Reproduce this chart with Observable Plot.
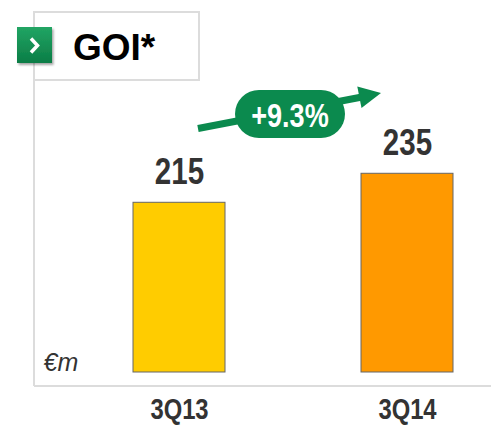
<!DOCTYPE html>
<html>
<head>
<meta charset="utf-8">
<script src="https://cdn.jsdelivr.net/npm/d3@7"></script>
<script src="https://cdn.jsdelivr.net/npm/@observablehq/plot@0.6"></script>
<style>
  html, body { margin: 0; padding: 0; background: #fff; }
  #chart svg { display: block; background: #fff; }
</style>
</head>
<body>
<div id="chart"></div>
<script>
// ---- data ----
const categories = ["3Q13", "3Q14"];
const values = [215, 235];
const barColors = ["#FFCC00", "#FF9900"];
const titleText = "GOI*";
const unitLabel = "€m";
const axisBase = 98;   // value axis does not start at zero in the original
const axisTop = 300;

const data = categories.map((c, i) => ({category: c, value: values[i]}));
const growth = (values[1] - values[0]) / values[0] * 100;
const growthLabel = "+" + growth.toFixed(1) + "%";

const regular = "'Liberation Sans', Arial, sans-serif";
const green = "#0b8a4e";

const plot = Plot.plot({
  width: 491,
  height: 425,
  marginLeft: 34,
  marginRight: 0,
  marginTop: 79,
  marginBottom: 53,
  x: {domain: categories, paddingInner: 0.598, paddingOuter: 0.297, align: 0.72, axis: null},
  y: {domain: [axisBase, axisTop], axis: null},
  color: {domain: categories, range: barColors},
  marks: [
    Plot.barY(data, {x: "category", y1: axisBase, y2: "value", fill: "category", stroke: "#666", strokeWidth: 1}),
    Plot.text(data, {x: "category", y: "value", text: d => String(d.value), lineAnchor: "bottom", dy: -19,
      fontSize: 36, fontWeight: "bold", fontFamily: regular, fill: "#333"}),
    Plot.axisX({tickSize: 0, tickPadding: 26, fontSize: 29, fontWeight: "bold", fontFamily: regular, fill: "#333", label: null}),
    Plot.text([unitLabel], {frameAnchor: "bottom-left", text: d => d, textAnchor: "start", lineAnchor: "bottom",
      dx: 9, dy: -2, fontSize: 25, fontStyle: "italic", fontFamily: regular, fill: "#333"})
  ]
});
document.getElementById("chart").appendChild(plot);

// emulate a narrow bold face (Arial Narrow) by condensing bold glyphs
function condense(nodes, ratio) {
  nodes.forEach(node => {
    const len = node.getComputedTextLength();
    node.setAttribute("textLength", (len * ratio).toFixed(2));
    node.setAttribute("lengthAdjust", "spacingAndGlyphs");
  });
}
condense(Array.from(plot.querySelectorAll("text")).filter(t => {
  const w = getComputedStyle(t).fontWeight;
  return w === "700" || w === "bold";
}), 0.82);

// ---- decorations (frame, title box, growth badge) ----
const svg = d3.select(plot);
const defs = svg.append("defs");
const grad = defs.append("linearGradient").attr("id", "iconGrad").attr("x1", 0).attr("y1", 0).attr("x2", 0).attr("y2", 1);
grad.append("stop").attr("offset", "0%").attr("stop-color", "#22a564");
grad.append("stop").attr("offset", "100%").attr("stop-color", "#0b7d46");
const shadow = defs.append("filter").attr("id", "shadow").attr("x", "-20%").attr("y", "-20%").attr("width", "150%").attr("height", "150%");
shadow.append("feDropShadow").attr("dx", 1.5).attr("dy", 2).attr("stdDeviation", 1.2).attr("flood-color", "#000").attr("flood-opacity", 0.35);

const deco = svg.append("g").attr("text-anchor", "start");
// frame lines
deco.append("line").attr("x1", 34).attr("y1", 80).attr("x2", 34).attr("y2", 386)
  .attr("stroke", "#dcdcdc").attr("stroke-width", 2);
deco.append("line").attr("x1", 34).attr("y1", 386).attr("x2", 491).attr("y2", 386)
  .attr("stroke", "#dcdcdc").attr("stroke-width", 2);
// title box
deco.append("rect").attr("x", 34).attr("y", 12).attr("width", 165).attr("height", 68)
  .attr("fill", "#fff").attr("stroke", "#dcdcdc").attr("stroke-width", 2);
deco.append("rect").attr("x", 17).attr("y", 27).attr("width", 35).attr("height", 36)
  .attr("fill", "url(#iconGrad)").attr("filter", "url(#shadow)");
deco.append("path").attr("d", "M31,38.5 L37.5,45.5 L31,52.5")
  .attr("fill", "none").attr("stroke", "#fff").attr("stroke-width", 3.5).attr("stroke-linejoin", "miter");
deco.append("text").attr("x", 73).attr("y", 60).attr("text-anchor", "start").text(titleText)
  .attr("font-family", regular).attr("font-weight", "bold").attr("font-size", 37).attr("fill", "#000");
// growth arrow
deco.append("line").attr("x1", 198).attr("y1", 128.5).attr("x2", 362).attr("y2", 97)
  .attr("stroke", green).attr("stroke-width", 7);
deco.append("polygon").attr("points", "381,93 357.3,86.4 361.5,108").attr("fill", green);
// badge
deco.append("rect").attr("x", 235).attr("y", 90).attr("width", 110).attr("height", 48).attr("rx", 24)
  .attr("fill", green);
const badgeText = deco.append("text").attr("x", 290).attr("y", 127).attr("text-anchor", "middle").text(growthLabel)
  .attr("font-family", regular).attr("font-weight", "bold").attr("font-size", 33).attr("fill", "#fff");
condense([badgeText.node()], 0.82);
</script>
</body>
</html>
